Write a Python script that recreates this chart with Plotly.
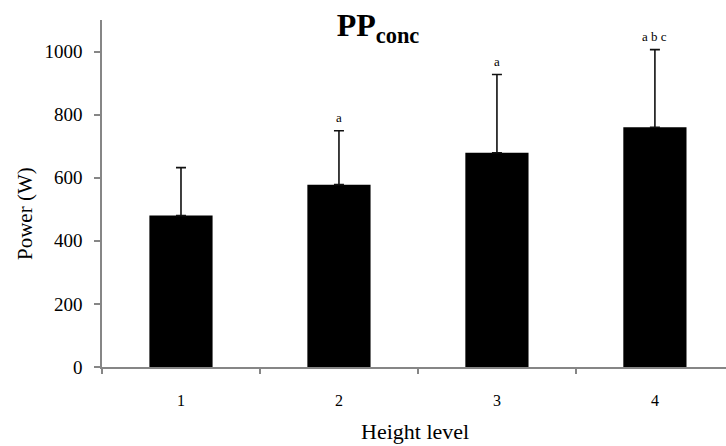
import plotly.graph_objects as go

categories = ["1", "2", "3", "4"]
power = [480, 578, 679, 760]
sd_plus = [152, 171, 248, 246]
sig_labels = ["", "a", "a", "a b c"]
y_ticks = [0, 200, 400, 600, 800, 1000]

xpos = list(range(len(categories)))
serif = "Liberation Serif, Times New Roman, serif"

fig = go.Figure()
fig.add_trace(go.Bar(
    x=xpos, y=power, width=0.4,
    marker=dict(color="black", line=dict(width=0)),
    error_y=dict(type="data", symmetric=False, array=sd_plus,
                 arrayminus=[0] * len(power), color="#111111",
                 thickness=1.6, width=5),
    showlegend=False,
))
# invisible trace on xaxis2 for boundary tick marks
fig.add_trace(go.Scatter(x=xpos, y=power, xaxis="x2", mode="markers",
                         marker=dict(opacity=0), showlegend=False,
                         hoverinfo="skip"))

for i, lab in enumerate(sig_labels):
    if lab:
        fig.add_annotation(x=xpos[i], y=power[i] + sd_plus[i], text=lab,
                           showarrow=False, yanchor="bottom", yshift=4,
                           font=dict(family=serif, size=13, color="black"))

fig.add_annotation(text="Power (W)", textangle=-90, xref="paper", yref="paper",
                   x=0, xanchor="center", xshift=-77, y=(367 - 214) / 347,
                   yanchor="middle", showarrow=False,
                   font=dict(family=serif, size=21, color="black"))
fig.add_annotation(text="Height level", xref="paper", yref="paper",
                   x=(415 - 102) / 624, xanchor="center", y=0, yshift=-64,
                   yanchor="middle", showarrow=False,
                   font=dict(family=serif, size=22, color="black"))

fig.update_layout(
    width=726, height=446,
    margin=dict(l=102, r=0, t=20, b=79),
    paper_bgcolor="white", plot_bgcolor="white",
    title=dict(text="<b>PP<sub>conc</sub></b>", xref="container",
               x=378 / 726, xanchor="center", yref="container",
               y=1 - 25 / 446, yanchor="middle",
               font=dict(family=serif, size=32, color="black")),
    xaxis=dict(range=[-0.5, 3.45], tickmode="array", tickvals=xpos,
               ticktext=categories, ticks="", showgrid=False, zeroline=False,
               showline=True, linecolor="#868686", linewidth=1.5,
               ticklabelstandoff=18,
               tickfont=dict(family=serif, size=16, color="black")),
    xaxis2=dict(overlaying="x", matches="x", side="bottom",
                tickmode="array", tickvals=[-0.5, 0.5, 1.5, 2.5, 3.5],
                ticks="outside", ticklen=6, tickcolor="#868686", tickwidth=1.5,
                showticklabels=False, showgrid=False, zeroline=False,
                showline=False),
    yaxis=dict(range=[0, 1100], tickmode="array", tickvals=y_ticks,
               ticks="outside", ticklen=6, tickcolor="#868686", tickwidth=1.5,
               showgrid=False, zeroline=False, showline=True,
               linecolor="#868686", linewidth=1.5, ticklabelstandoff=8,
               tickfont=dict(family=serif, size=19, color="black")),
    bargap=0.6,
)

fig.write_html("out.html", config={"displayModeBar": False},
               post_script="document.body.style.margin='0';"
                           "document.body.style.padding='0';")
